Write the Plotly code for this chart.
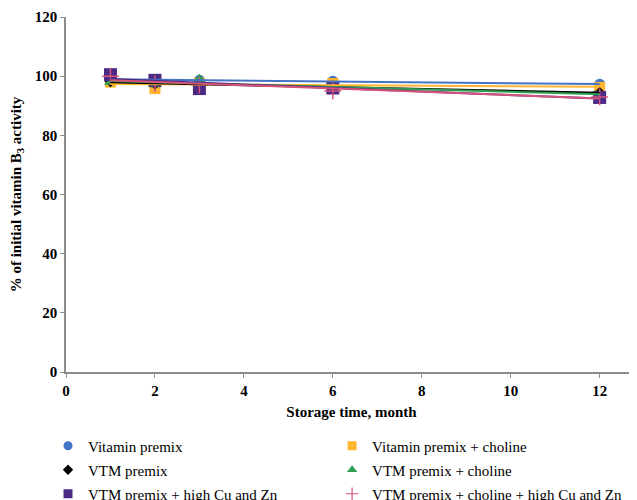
import numpy as np
import plotly.graph_objects as go

months = [1, 2, 3, 6, 12]
series_names = [
    "Vitamin premix",
    "Vitamin premix + choline",
    "VTM premix",
    "VTM premix + choline",
    "VTM premix + high Cu and Zn",
    "VTM premix + choline + high Cu and Zn",
]
vitamin_premix = [99.0, 98.8, 98.6, 98.3, 97.3]
vitamin_premix_choline = [98.0, 95.8, 97.6, 97.5, 96.2]
vtm_premix = [98.2, 97.4, 97.0, 96.5, 94.4]
vtm_premix_choline = [98.0, 97.2, 99.0, 96.2, 93.8]
vtm_premix_cu_zn = [100.5, 98.6, 95.8, 96.0, 92.8]
vtm_premix_choline_cu_zn = [100.0, 97.5, 97.0, 95.0, 93.0]
x_ticks = [0, 2, 4, 6, 8, 10, 12]
y_ticks = [0, 20, 40, 60, 80, 100, 120]

all_values = [vitamin_premix, vitamin_premix_choline, vtm_premix,
              vtm_premix_choline, vtm_premix_cu_zn, vtm_premix_choline_cu_zn]
colors = ["#4472C4", "#FFB52E", "#000000", "#2E9E4F", "#4B2A86", "#D6537A"]
symbols = ["circle", "square", "diamond", "triangle-up", "square", "cross-thin"]
sizes = [11, 11, 9, 11, 13, 12]
legend_sizes = [9, 9, 8, 9, 9, 9]
legend_column = ["legend", "legend2", "legend", "legend2", "legend", "legend2"]

FONT = "Liberation Serif, Times New Roman, serif"
fig = go.Figure()

for name, vals, c, s, sz in zip(series_names, all_values, colors, symbols, sizes):
    marker = dict(color=c, symbol=s, size=sz)
    if s == "cross-thin":
        marker["line"] = dict(color=c, width=1.5)
    fig.add_trace(go.Scatter(x=months, y=vals, mode="markers", name=name,
                             marker=marker, showlegend=False))

# linear trend lines fitted to each series
for vals, c in zip(all_values, colors):
    k, b = np.polyfit(months, vals, 1)
    xs = [months[0], months[-1]]
    fig.add_trace(go.Scatter(x=xs, y=[k * v + b for v in xs], mode="lines",
                             line=dict(color=c, width=2), showlegend=False,
                             hoverinfo="skip"))

# legend entries (smaller symbols, as in the reference), in two columns
for name, c, s, sz, lg in zip(series_names, colors, symbols, legend_sizes, legend_column):
    marker = dict(color=c, symbol=s, size=sz)
    if s == "cross-thin":
        marker["line"] = dict(color=c, width=1.2)
    fig.add_trace(go.Scatter(x=[None], y=[None], mode="markers", name=name,
                             marker=marker, showlegend=True, legend=lg,
                             legendgroup=name))

legend_common = dict(orientation="v", xanchor="left", yanchor="top",
                     font=dict(family=FONT, size=15), itemwidth=30,
                     tracegroupgap=1.5, bgcolor="rgba(0,0,0,0)")

# the page body adds an 8px offset, so the figure is sized to the remaining space
fig.update_layout(
    width=629, height=492,
    margin=dict(l=58, r=0, t=9, b=128, autoexpand=False),
    paper_bgcolor="white", plot_bgcolor="white",
    font=dict(family=FONT, size=15, color="black"),
    legend=dict(x=-0.0315, y=-0.162, **legend_common),
    legend2=dict(x=0.466, y=-0.162, **legend_common),
    showlegend=True,
)
fig.update_xaxes(range=[0, 12.84], tickvals=x_ticks, showgrid=False, zeroline=False,
                 automargin=False,
                 showline=True, linecolor="#8c8c8c", linewidth=1.5,
                 ticks="outside", ticklen=4, tickcolor="#8c8c8c",
                 tickfont=dict(family=FONT, size=15, color="black", weight="bold"),
                 title=dict(text="Storage time, month", standoff=9,
                            font=dict(family=FONT, size=15, weight="bold")))
fig.update_yaxes(range=[0, 120], tickvals=y_ticks, showgrid=False, zeroline=False,
                 automargin=False,
                 showline=True, linecolor="#8c8c8c", linewidth=1.5,
                 ticks="outside", ticklen=4, tickcolor="#8c8c8c",
                 tickfont=dict(family=FONT, size=15, color="black", weight="bold"),
                 title=dict(text="% of initial vitamin B<sub>3</sub> activity",
                            standoff=10, font=dict(family=FONT, size=15, weight="bold")))

fig.write_html("out.html")
